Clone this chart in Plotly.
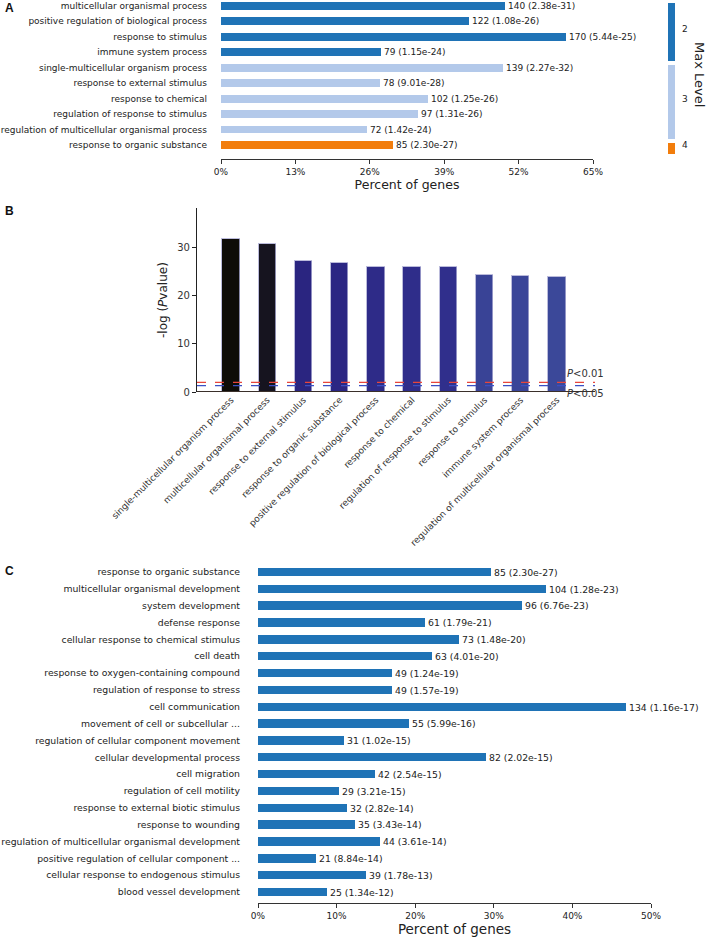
import plotly.graph_objects as go
from collections import Counter

W, H = 709, 944
FONT = "DejaVu Sans"
INK = "#222222"

# ---- panel A: top GO terms by level ----
A_TERMS = [
    "multicellular organismal process",
    "positive regulation of biological process",
    "response to stimulus",
    "immune system process",
    "single-multicellular organism process",
    "response to external stimulus",
    "response to chemical",
    "regulation of response to stimulus",
    "regulation of multicellular organismal process",
    "response to organic substance",
]
A_PERCENT = [49.6, 43.3, 60.3, 28.0, 49.3, 27.7, 36.2, 34.4, 25.5, 30.1]
A_COUNT = [140, 122, 170, 79, 139, 78, 102, 97, 72, 85]
A_PVAL = ["2.38e-31", "1.08e-26", "5.44e-25", "1.15e-24", "2.27e-32",
          "9.01e-28", "1.25e-26", "1.31e-26", "1.42e-24", "2.30e-27"]
A_LEVEL = [2, 2, 2, 2, 3, 3, 3, 3, 3, 4]
A_TICKS = [0, 13, 26, 39, 52, 65]
LEVEL_COLORS = {2: "#1f73b6", 3: "#b3c9ea", 4: "#f27d0c"}

# ---- panel B: -log(P) ----
B_TERMS = [
    "single-multicellular organism process",
    "multicellular organismal process",
    "response to external stimulus",
    "response to organic substance",
    "positive regulation of biological process",
    "response to chemical",
    "regulation of response to stimulus",
    "response to stimulus",
    "immune system process",
    "regulation of multicellular organismal process",
]
B_NEGLOG = [31.64, 30.62, 27.05, 26.64, 25.97, 25.90, 25.88, 24.26, 23.94, 23.85]
B_COLORS = ["#0e0c08", "#16141f", "#2a2580", "#2b2683", "#2e2b88",
            "#2f2d8a", "#302f8c", "#394396", "#3a4598", "#3b4899"]
B_YTICKS = [0, 10, 20, 30]
THRESH = [("P<0.01", 2.0, "#e8463a"), ("P<0.05", 1.3, "#3b4fc4")]

# ---- panel C: top 20 terms ----
C_TERMS = [
    "response to organic substance",
    "multicellular organismal development",
    "system development",
    "defense response",
    "cellular response to chemical stimulus",
    "cell death",
    "response to oxygen-containing compound",
    "regulation of response to stress",
    "cell communication",
    "movement of cell or subcellular ...",
    "regulation of cellular component movement",
    "cellular developmental process",
    "cell migration",
    "regulation of cell motility",
    "response to external biotic stimulus",
    "response to wounding",
    "regulation of multicellular organismal development",
    "positive regulation of cellular component ...",
    "cellular response to endogenous stimulus",
    "blood vessel development",
]
C_PERCENT = [29.6, 36.6, 33.6, 21.3, 25.6, 22.1, 17.1, 17.1, 46.8, 19.2,
             10.9, 29.0, 14.9, 10.3, 11.3, 12.4, 15.5, 7.4, 13.8, 8.8]
C_COUNT = [85, 104, 96, 61, 73, 63, 49, 49, 134, 55,
           31, 82, 42, 29, 32, 35, 44, 21, 39, 25]
C_PVAL = ["2.30e-27", "1.28e-23", "6.76e-23", "1.79e-21", "1.48e-20",
          "4.01e-20", "1.24e-19", "1.57e-19", "1.16e-17", "5.99e-16",
          "1.02e-15", "2.02e-15", "2.54e-15", "3.21e-15", "2.82e-14",
          "3.43e-14", "3.61e-14", "8.84e-14", "1.78e-13", "1.34e-12"]
C_TICKS = [0, 10, 20, 30, 40, 50]


def px(x0, x1):
    return [x0 / W, x1 / W]


def py(top, bottom):
    return [1 - bottom / H, 1 - top / H]


fig = go.Figure()

# A bars
fig.add_trace(go.Bar(
    x=A_PERCENT, y=A_TERMS, orientation="h",
    marker=dict(color=[LEVEL_COLORS[l] for l in A_LEVEL], line_width=0),
    width=0.5,
    text=[f"{c} ({p})" for c, p in zip(A_COUNT, A_PVAL)],
    textposition="outside", constraintext="none", cliponaxis=False,
    textfont=dict(family=FONT, size=9, color=INK),
    xaxis="x", yaxis="y", showlegend=False,
))

# A level key, stacked segments sized by number of terms per level
level_counts = Counter(A_LEVEL)
cum = 0
for lvl in sorted(level_counts):
    n = level_counts[lvl]
    fig.add_trace(go.Bar(
        x=[0], y=[n], width=1,
        marker=dict(color=LEVEL_COLORS[lvl], line=dict(color="white", width=4)),
        xaxis="x4", yaxis="y4", showlegend=False,
    ))
    fig.add_annotation(
        x=0.5, y=cum + n / 2, xref="x4", yref="y4", text=str(lvl),
        showarrow=False, xanchor="left", yanchor="middle", xshift=3, yshift=3,
        font=dict(family=FONT, size=9, color=INK),
    )
    cum += n

# B bars
fig.add_trace(go.Bar(
    x=B_TERMS, y=B_NEGLOG, width=0.48,
    marker=dict(color=B_COLORS, line=dict(color="rgba(170,170,210,0.8)", width=1)),
    xaxis="x2", yaxis="y2", showlegend=False,
))
for label, val, col in THRESH:
    fig.add_shape(type="line", xref="x2 domain", yref="y2", x0=0, x1=1, y0=val, y1=val,
                  line=dict(color=col, width=1.3, dash="dash"))
fig.add_shape(type="line", xref="x2 domain", yref="y2", x0=0, x1=1, y0=0, y1=0,
              line=dict(color="#3a2f2a", width=2))
fig.add_annotation(x=0.925, y=THRESH[0][1], xref="x2 domain", yref="y2",
                   text="<i>P</i>&lt;0.01", showarrow=False, xanchor="left",
                   yanchor="bottom", yshift=1,
                   font=dict(family=FONT, size=10, color="#333"))
fig.add_annotation(x=0.925, y=0, xref="x2 domain", yref="y2",
                   text="<i>P</i>&lt;0.05", showarrow=False, xanchor="left",
                   yanchor="middle", yshift=-1,
                   font=dict(family=FONT, size=10, color="#333"))

# C bars
fig.add_trace(go.Bar(
    x=C_PERCENT, y=C_TERMS, orientation="h",
    marker=dict(color="#1f73b6", line_width=0), width=0.5,
    text=[f"{c} ({p})" for c, p in zip(C_COUNT, C_PVAL)],
    textposition="outside", constraintext="none", cliponaxis=False,
    textfont=dict(family=FONT, size=9.3, color=INK),
    xaxis="x3", yaxis="y3", showlegend=False,
))

tick_font = dict(family=FONT, size=9, color=INK)
fig.update_layout(
    width=W, height=H, margin=dict(l=0, r=0, t=0, b=0, autoexpand=False),
    paper_bgcolor="white", plot_bgcolor="white",
    barmode="stack", bargap=0, font=dict(family=FONT, color=INK),
    # A
    xaxis=dict(domain=px(221, 593), anchor="y", range=[0, 65], tickvals=A_TICKS,
               ticktext=[f"{t}%" for t in A_TICKS], automargin=False,
               showgrid=False, zeroline=False, showline=True,
               linecolor="#333", linewidth=1, ticks="outside", ticklen=4,
               tickcolor="#333", tickfont=tick_font,
               title=dict(text="Percent of genes", font=dict(family=FONT, size=12.5),
                          standoff=4)),
    yaxis=dict(domain=py(0, 159), anchor="x", type="category", range=[9.9, -0.38],
               automargin=False, showgrid=False, zeroline=False, showline=False,
               ticks="", ticklabelstandoff=13,
               tickfont=dict(family=FONT, size=9, color=INK)),
    # B
    xaxis2=dict(domain=px(197, 595), anchor="y2", type="category", range=[-0.94, 10.05],
                automargin=False, showgrid=False, zeroline=False, showline=False,
                ticks="", tickangle=-45,
                tickfont=dict(family=FONT, size=9, color="#333")),
    yaxis2=dict(domain=py(208, 392), anchor="x2", range=[0, 38.1], tickvals=B_YTICKS,
                automargin=False, showgrid=False, zeroline=False, showline=True,
                linecolor="#222", linewidth=1.2, ticks="outside", ticklen=4,
                tickcolor="#222", tickfont=dict(family=FONT, size=10, color="#333")),
    # C
    xaxis3=dict(domain=px(258, 651), anchor="y3", range=[0, 50], tickvals=C_TICKS,
                ticktext=[f"{t}%" for t in C_TICKS], automargin=False,
                showgrid=False, zeroline=False, showline=True,
                linecolor="#333", linewidth=1, ticks="outside", ticklen=4,
                tickcolor="#333", tickfont=tick_font,
                title=dict(text="Percent of genes", font=dict(family=FONT, size=13.5),
                           standoff=4)),
    yaxis3=dict(domain=py(561, 903), anchor="x3", type="category", range=[19.65, -0.65],
                automargin=False, showgrid=False, zeroline=False, showline=False,
                ticks="", ticklabelstandoff=17,
                tickfont=dict(family=FONT, size=9.3, color=INK)),
    # level key
    xaxis4=dict(domain=px(666, 677), anchor="y4", range=[-0.5, 0.5], visible=False),
    yaxis4=dict(domain=py(1, 156), anchor="x4", range=[10, 0], visible=False),
)

fig.add_annotation(x=700 / W, y=1 - 74 / H, xref="paper", yref="paper",
                   text="Max Level", textangle=90, showarrow=False,
                   xanchor="center", yanchor="middle",
                   font=dict(family=FONT, size=13, color=INK))
fig.add_annotation(x=163 / W, y=1 - 300 / H, xref="paper", yref="paper",
                   text="-log (<i>P</i>value)", textangle=-90, showarrow=False,
                   xanchor="center", yanchor="middle",
                   font=dict(family=FONT, size=12, color=INK))

for letter, top in [("A", 8), ("B", 211), ("C", 571)]:
    fig.add_annotation(x=3 / W, y=1 - top / H, xref="paper", yref="paper",
                       text=f"<b>{letter}</b>", showarrow=False,
                       xanchor="left", yanchor="middle",
                       font=dict(family="Liberation Sans", size=12, color="#111"))

# drop the browser's default body margin so the figure sits at the page origin
fig.write_html("out.html", config={"displayModeBar": False},
               post_script="document.body.style.margin='0';")
